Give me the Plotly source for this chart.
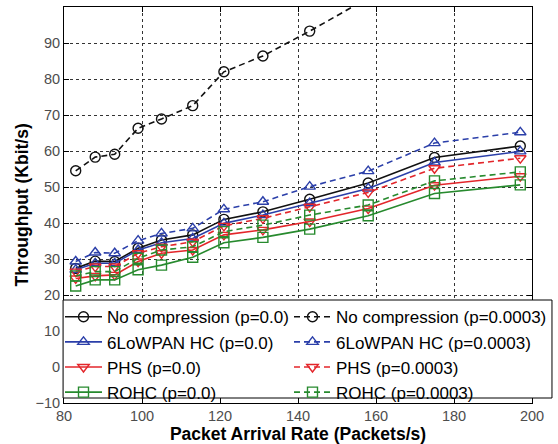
import plotly.graph_objects as go

# ---- data ----
arrival_rate = [83, 88, 93, 99, 105, 113, 121, 131, 143, 158, 175, 197]

nc_p0 = [27.4, 29.4, 29.3, 33.0, 35.3, 36.7, 41.0, 43.1, 46.6, 51.1, 58.2, 61.4]
nc_p3 = [54.5, 58.3, 59.1, 66.3, 68.9, 72.6, 82.0, 86.4, 93.3, 102.5, 112.0, 122.0]
lowpan_p0 = [27.0, 28.8, 28.8, 32.5, 34.5, 35.7, 39.9, 42.2, 45.5, 49.6, 56.8, 59.9]
lowpan_p3 = [29.3, 31.8, 31.6, 35.1, 37.1, 38.5, 43.8, 45.9, 50.1, 54.4, 62.2, 65.2]
phs_p0 = [24.6, 25.3, 25.6, 29.3, 31.6, 32.5, 36.7, 38.1, 40.4, 44.0, 50.5, 53.0]
phs_p3 = [26.5, 27.9, 27.9, 31.6, 33.4, 34.8, 39.2, 41.3, 44.5, 48.5, 55.2, 58.0]
rohc_p0 = [22.5, 24.2, 24.2, 27.0, 28.3, 30.5, 34.5, 36.0, 38.3, 42.0, 48.2, 50.6]
rohc_p3 = [25.3, 26.5, 26.5, 30.2, 32.5, 33.4, 37.6, 39.4, 42.2, 45.0, 51.7, 54.2]

x_ticks = [80, 100, 120, 140, 160, 180, 200]
y_ticks = [-10, 0, 10, 20, 30, 40, 50, 60, 70, 80, 90]

BLACK = "#111111"
BLUE = "#2b3fa9"
RED = "#e3262b"
GREEN = "#278a2e"
DASH = "6px,4px"

# (name, values, colour, marker, dash, legend column)
series = [
    ("No compression (p=0.0)", nc_p0, BLACK, "circle-open", "solid", "legend"),
    ("No compression (p=0.0003)", nc_p3, BLACK, "circle-open", DASH, "legend2"),
    ("6LoWPAN HC (p=0.0)", lowpan_p0, BLUE, "triangle-up-open", "solid", "legend"),
    ("6LoWPAN HC (p=0.0003)", lowpan_p3, BLUE, "triangle-up-open", DASH, "legend2"),
    ("PHS (p=0.0)", phs_p0, RED, "triangle-down-open", "solid", "legend"),
    ("PHS (p=0.0003)", phs_p3, RED, "triangle-down-open", DASH, "legend2"),
    ("ROHC (p=0.0)", rohc_p0, GREEN, "square-open", "solid", "legend"),
    ("ROHC (p=0.0003)", rohc_p3, GREEN, "square-open", DASH, "legend2"),
]

fig = go.Figure()
for name, vals, col, sym, dash, leg in series:
    fig.add_trace(go.Scatter(
        x=arrival_rate, y=vals, name=name, mode="lines+markers", legend=leg,
        line=dict(color=col, width=1.6, dash=dash),
        marker=dict(symbol=sym, size=10, color=col, line=dict(width=1.4, color=col)),
    ))

FONT = "Liberation Sans, Arial, sans-serif"
axis_common = dict(
    showline=True, linecolor="black", linewidth=1, mirror="ticks",
    ticks="inside", ticklen=5, tickcolor="black",
    showgrid=True, gridcolor="#333333", gridwidth=1, griddash="3px,3px",
    zeroline=False,
    tickfont=dict(family=FONT, size=14.5, color="#4d4d4d"),
)

fig.update_xaxes(
    range=[80, 200], tickvals=x_ticks,
    title=dict(text="<b>Packet Arrival Rate (Packets/s)</b>",
               font=dict(family=FONT, size=17.5, color="black"), standoff=7),
    **axis_common,
)
fig.update_yaxes(range=[-10, 100], tickvals=y_ticks, **axis_common)

legend_common = dict(
    orientation="v", xref="container", yanchor="top", y=0.262,
    bgcolor="rgba(0,0,0,0)", borderwidth=0,
    font=dict(family=FONT, size=17, color="black"),
    itemwidth=37, traceorder="normal",
)

fig.update_layout(
    width=558, height=444,
    margin=dict(l=64, r=26, t=7, b=41, autoexpand=False),
    paper_bgcolor="white", plot_bgcolor="white",
    font=dict(family=FONT, color="black"),
    legend=dict(x=60 / 558, xanchor="left", **legend_common),
    legend2=dict(x=289 / 558, xanchor="left", **legend_common),
    shapes=[dict(
        type="rect", xref="paper", yref="paper",
        x0=-0.002, x1=1.0427, y0=0.0126, y1=0.2601,
        fillcolor="white", line=dict(color="black", width=1), layer="above",
    )],
    annotations=[dict(
        text="<b>Throughput (Kbit/s)</b>", xref="paper", yref="paper",
        x=-0.0908, y=0.5, xanchor="center", yanchor="middle",
        textangle=-90, showarrow=False,
        font=dict(family=FONT, size=17.5, color="black"),
    )],
)

fig.write_html("out.html", config={"displayModeBar": False},
               post_script="document.body.style.margin='0px';")
